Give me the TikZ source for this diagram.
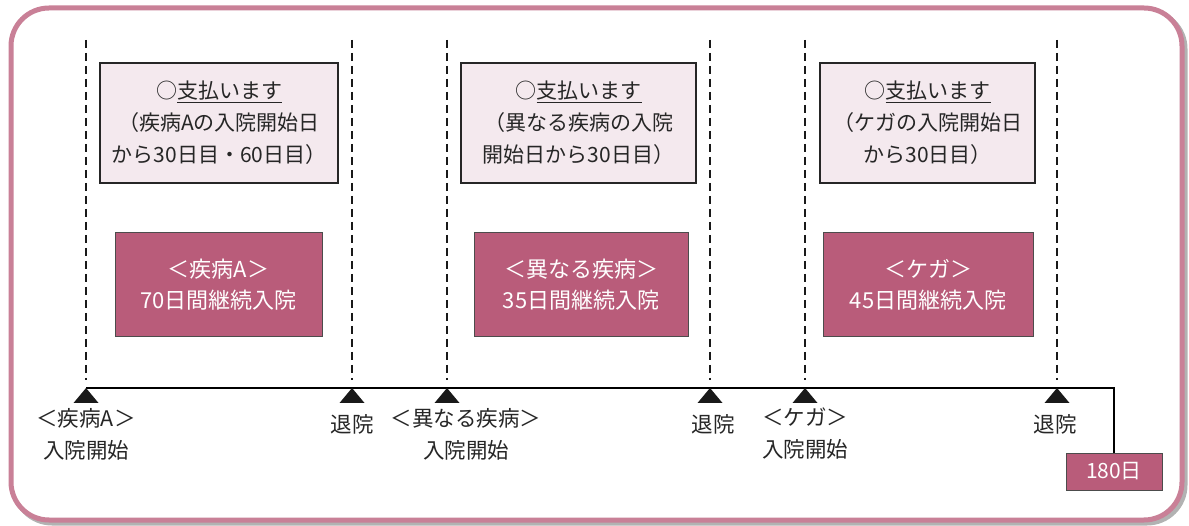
\documentclass[tikz,border=0pt]{standalone}
\usepackage{fontspec}
\setmainfont{Noto Sans CJK JP}
\definecolor{framepink}{HTML}{C98097}
\definecolor{lightpink}{HTML}{F4E9EE}
\definecolor{darkpink}{HTML}{B95C7A}
\begin{document}
\begin{tikzpicture}[x=1pt,y=-1pt,
  font=\fontsize{21}{32}\selectfont,
  lightbox/.style={draw=black!85, line width=1.8pt, fill=lightpink, minimum height=120pt, align=center, inner sep=0pt, text=black!85},
  darkbox/.style={draw=black!70, line width=1pt, fill=darkpink, minimum height=104pt, align=center, inner sep=0pt, text=white, font=\fontsize{22}{31}\selectfont},
  guide/.style={black!90, line width=1.8pt, dash pattern=on 8pt off 5pt},
  axis/.style={black, line width=2pt},
  marker/.style={fill=black!90},
  lbl/.style={align=center, inner sep=0pt, text=black!85, font=\fontsize{21.5}{32}\selectfont}
]
\useasboundingbox (0,0) rectangle (1189,526);
% frame with shadow
\draw[black!30, line width=5pt, rounded corners=38pt] (14,11) rectangle (1185,523);
\draw[framepink, line width=5pt, fill=white, rounded corners=38pt] (11,8) rectangle (1182,520);

% timeline coordinates
\coordinate (t1) at (86,388);
\coordinate (t2) at (352,388);
\coordinate (t3) at (447,388);
\coordinate (t4) at (710,388);
\coordinate (t5) at (805,388);
\coordinate (t6) at (1057,388);
\coordinate (tend) at (1114,388);

% dashed guides
\foreach \t in {t1,t2,t3,t4,t5,t6}{
  \draw[guide] ([yshift=348pt]\t) -- ([yshift=8pt]\t);
}

% payment boxes
\node[lightbox, minimum width=238pt] (p1) at (219,123) {○\underline{支払います}\\（疾病Aの入院開始日\\から30日目・60日目）};
\node[lightbox, minimum width=235pt] (p2) at (578.5,123) {○\underline{支払います}\\（異なる疾病の入院\\開始日から30日目）};
\node[lightbox, minimum width=215pt] (p3) at (927.5,123) {○\underline{支払います}\\（ケガの入院開始日\\から30日目）};

% hospital stay boxes
\node[darkbox, minimum width=207pt] (h1) at (218.5,285) {＜疾病A＞\\70日間継続入院};
\node[darkbox, minimum width=214pt] (h2) at (581,285) {＜異なる疾病＞\\35日間継続入院};
\node[darkbox, minimum width=210pt] (h3) at (928,285) {＜ケガ＞\\45日間継続入院};

% end box
\node[draw=black!70, line width=1pt, fill=darkpink, text=white, minimum width=96pt, minimum height=37pt, inner sep=0pt] (d180) at (1114,471.5) {180日};

% axis
\draw[axis] (t1) -- (tend) -- (d180.north);

% markers
\foreach \t in {t1,t2,t3,t4,t5,t6}{
  \fill[marker] (\t) -- ([xshift=-12.5pt,yshift=-15pt]\t) -- ([xshift=12.5pt,yshift=-15pt]\t) -- cycle;
}

% labels
\node[lbl] (l1) at (86,434) {＜疾病A＞\\入院開始};
\node[lbl] (l2) at (352,424) {退院};
\node[lbl] (l3) at (466,434) {＜異なる疾病＞\\入院開始};
\node[lbl] (l4) at (713,424) {退院};
\node[lbl] (l5) at (805,434) {＜ケガ＞\\入院開始};
\node[lbl] (l6) at (1055,424) {退院};
\end{tikzpicture}
\end{document}
